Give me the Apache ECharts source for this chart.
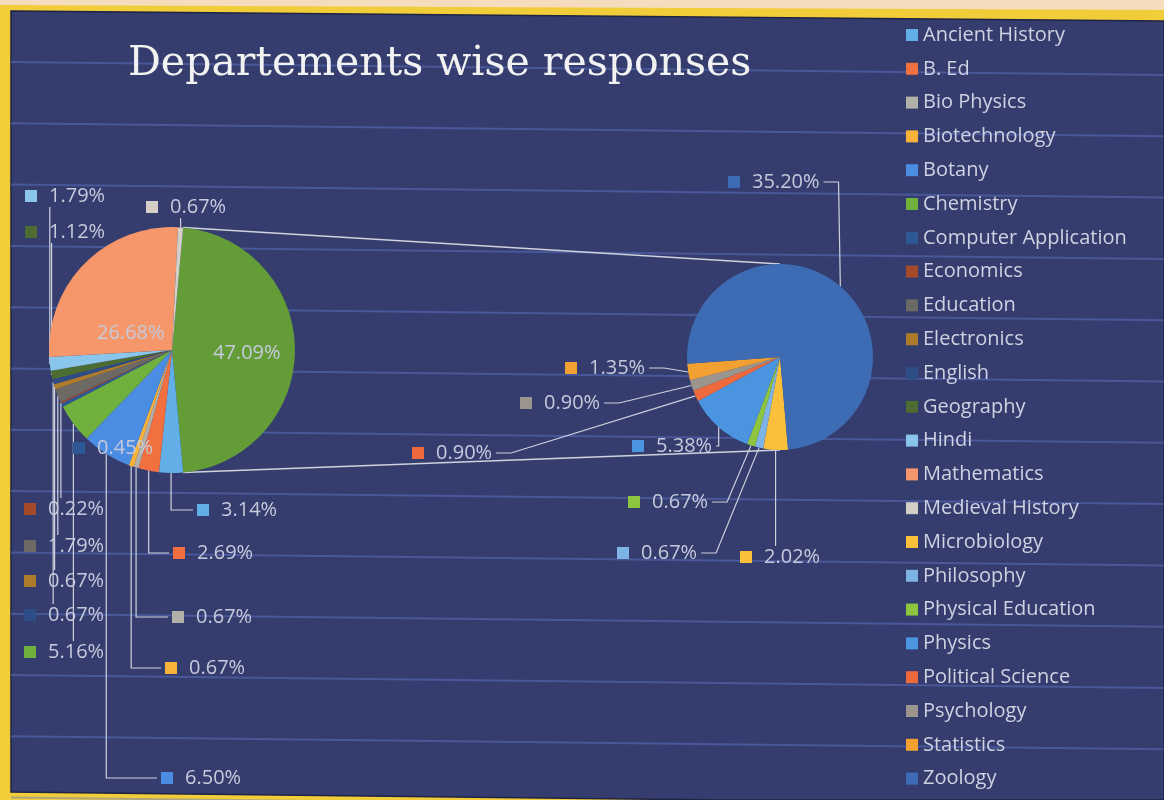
<!DOCTYPE html>
<html>
<head>
<meta charset="utf-8">
<title>Departements wise responses</title>
<script src="https://cdn.jsdelivr.net/npm/echarts@6/dist/echarts.min.js"></script>
<style>
  html, body { margin: 0; padding: 0; background: #f2cd3a; }
  #chart { width: 1164px; height: 800px; }
</style>
</head>
<body>
<div id="chart"></div>
<script>
// first pie: departments up to Medieval History, the rest goes into the green "other" slice
const mainNames = ['Ancient History', 'B. Ed', 'Bio Physics', 'Biotechnology', 'Botany', 'Chemistry',
  'Computer Application', 'Economics', 'Education', 'Electronics', 'English', 'Geography', 'Hindi',
  'Mathematics', 'Medieval History']
const mainValues = [3.14, 2.69, 0.67, 0.67, 6.50, 5.16, 0.45, 0.22, 1.79, 0.67, 0.67, 1.12, 1.79, 26.68, 0.67]
const otherValue = 47.09

// second pie, split out of the first
const subNames = ['Microbiology', 'Philosophy', 'Physical Education', 'Physics', 'Political Science',
  'Psychology', 'Statistics', 'Zoology']
const subValues = [2.02, 0.67, 0.67, 5.38, 0.90, 0.90, 1.35, 35.20]

const legendNames = mainNames.concat(subNames)

const sliceColors = {
  'Ancient History': '#62aee6', 'B. Ed': '#f2703f', 'Bio Physics': '#b3afa9', 'Biotechnology': '#f7b23a',
  'Botany': '#4b8de3', 'Chemistry': '#70b03c', 'Computer Application': '#2d5a94', 'Economics': '#a5492b',
  'Education': '#6d6964', 'Electronics': '#ad7b2c', 'English': '#2e4d86', 'Geography': '#4c6c31',
  'Hindi': '#8ac5ec', 'Mathematics': '#f6976b', 'Medieval History': '#d3cec6', 'Microbiology': '#fac03b',
  'Philosophy': '#7eb3e6', 'Physical Education': '#8dc53e', 'Physics': '#4b95e0',
  'Political Science': '#ee6a3c', 'Psychology': '#9b958d', 'Statistics': '#f3a033', 'Zoology': '#3d6cb4',
  'Other': '#649c37'
}

// layout
const MAIN = { cx: 172, cy: 350, r: 123 }
const SUB = { cx: 780, cy: 357, r: 93 }
const subStart = 175 // degrees, clockwise from 12 o'clock
const textColor = '#c6cadc'
const lineColor = '#cfd2dc'

// label spots (left of the colour key, vertical middle); index 0 of main is the "other" slice
const mainLabelPos = [[213, 353], [197, 510], [173, 553], [172, 617], [165, 668], [161, 778], [24, 652],
  [73, 448], [24, 509], [24, 546], [24, 581], [24, 615], [25, 232], [25, 196], [73, 333], [146, 207]]
const mainInside = [0, 7, 14]
const subLabelPos = [[740, 557], [617, 553], [628, 502], [632, 446], [412, 453], [520, 403], [565, 368], [728, 182]]

const mainAll = [otherValue].concat(mainValues)
const mainTotal = mainAll.reduce((a, b) => a + b, 0)
const otherSpan = otherValue / mainTotal * 360
const mainStart = 90 - otherSpan / 2

function midAngles (values, start) {
  const total = values.reduce((a, b) => a + b, 0)
  let a = start
  return values.map(v => {
    const span = v / total * 360
    const m = a + span / 2
    a += span
    return m
  })
}

function onCircle (c, deg) {
  const t = deg * Math.PI / 180
  return [c.cx + c.r * Math.sin(t), c.cy - c.r * Math.cos(t)]
}

const mainMid = midAngles(mainAll, mainStart)
const subMid = midAngles(subValues, subStart)

function sliceItem (name, value, showLine) {
  const c = sliceColors[name]
  return {
    name: name,
    value: value,
    itemStyle: { color: c },
    label: {
      rich: {
        m: { width: 12, height: 12, backgroundColor: c },
        v: { fontFamily: 'Open Sans', fontSize: 20, color: textColor, padding: [0, 0, 0, 12] },
        o: { fontFamily: 'Open Sans', fontSize: 20, color: textColor }
      }
    },
    labelLine: { show: showLine }
  }
}

const mainData = mainAll.map((v, i) => {
  const name = i === 0 ? 'Other' : mainNames[i - 1]
  return sliceItem(name, v, mainInside.indexOf(i) < 0)
})
const subData = subValues.map((v, i) => sliceItem(subNames[i], v, true))

function labelText (p) {
  const t = p.value.toFixed(2) + '%'
  return p.name === 'Other' ? '{o|' + t + '}' : '{m|}{v|' + t + '}'
}

// down from the slice, then across to the label
function verticalElbow (a, x, y, w, h) {
  if (a[0] >= x - 2 && a[0] <= x + w + 2) {
    const ey = a[1] < y ? y - h / 2 - 1 : y + h / 2 + 1
    return [a, [a[0], ey]]
  }
  const ex = a[0] < x ? x - 4 : x + w + 4
  return [a, [a[0], y], [ex, y]]
}

// short stub off the label, then straight to the slice
function stubLine (a, x, y, w, h) {
  if (a[0] >= x && a[0] <= x + w) {
    const ey = a[1] < y ? y - h / 2 - 1 : y + h / 2 + 1
    return [a, [a[0], ey]]
  }
  const right = a[0] > x + w
  const ex = right ? x + w + 4 : x - 4
  let sx = right ? ex + 15 : ex - 15
  if (right ? sx > a[0] : sx < a[0]) sx = a[0]
  return [[ex, y], [sx, y], a]
}

const chart = echarts.init(document.getElementById('chart'))

const stripes = []
for (let k = 0; k < 13; k++) {
  const y0 = 62 + 61.3 * k
  stripes.push({
    type: 'line', z: -5, silent: true,
    shape: { x1: 11, y1: y0, x2: 1164, y2: y0 + 13 },
    style: { stroke: 'rgba(98,122,205,0.45)', lineWidth: 2 }
  })
}

const topA = onCircle(MAIN, mainStart)
const botA = onCircle(MAIN, mainStart + otherSpan)

const option = {
  backgroundColor: 'transparent',
  animation: false,
  title: {
    text: 'Departements wise responses',
    left: 123,
    top: 39,
    textStyle: { fontFamily: 'DejaVu Serif', fontSize: 41, fontWeight: 'normal', color: '#f2f2f2' }
  },
  legend: {
    orient: 'vertical',
    left: 901,
    top: 20,
    itemWidth: 12,
    itemHeight: 12,
    itemGap: 13.8,
    icon: 'rect',
    selectedMode: false,
    data: legendNames,
    textStyle: { fontFamily: 'Open Sans', fontSize: 20, color: '#cfd2e2' }
  },
  graphic: [
    {
      type: 'polygon', z: -10, silent: true,
      shape: { points: [[11, 11], [1164, 21], [1164, 800], [720, 800], [11, 792]] },
      style: { fill: '#343d6e', stroke: '#1f2344', lineWidth: 1.5 }
    },
    {
      type: 'polygon', z: -10, silent: true,
      shape: { points: [[0, 0], [1164, 0], [1164, 10], [0, 5]] },
      style: { fill: '#f4dcbc' }
    }
  ].concat(stripes).concat([
    {
      type: 'line', z: -4, silent: true,
      shape: { x1: topA[0], y1: topA[1], x2: SUB.cx, y2: SUB.cy - SUB.r },
      style: { stroke: lineColor, lineWidth: 1.3 }
    },
    {
      type: 'line', z: -4, silent: true,
      shape: { x1: botA[0], y1: botA[1], x2: SUB.cx, y2: SUB.cy + SUB.r },
      style: { stroke: lineColor, lineWidth: 1.3 }
    }
  ]),
  series: [
    {
      name: 'main',
      type: 'pie',
      center: [MAIN.cx, MAIN.cy],
      radius: MAIN.r,
      startAngle: 90 - mainStart,
      clockwise: true,
      avoidLabelOverlap: false,
      emphasis: { disabled: true },
      data: mainData,
      label: { show: true, position: 'outside', formatter: labelText },
      labelLine: { show: true, smooth: false, lineStyle: { color: lineColor, width: 1.2 } },
      labelLayout: function (p) {
        const pos = mainLabelPos[p.dataIndex]
        const out = { x: pos[0], y: pos[1], align: 'left', verticalAlign: 'middle' }
        if (mainInside.indexOf(p.dataIndex) < 0) {
          const a = onCircle(MAIN, mainMid[p.dataIndex])
          out.labelLinePoints = verticalElbow(a, pos[0], pos[1], p.labelRect.width, p.labelRect.height)
        }
        return out
      }
    },
    {
      name: 'sub',
      type: 'pie',
      center: [SUB.cx, SUB.cy],
      radius: SUB.r,
      startAngle: 90 - subStart,
      clockwise: true,
      avoidLabelOverlap: false,
      emphasis: { disabled: true },
      data: subData,
      label: { show: true, position: 'outside', formatter: labelText },
      labelLine: { show: true, smooth: false, lineStyle: { color: lineColor, width: 1.2 } },
      labelLayout: function (p) {
        const pos = subLabelPos[p.dataIndex]
        const a = onCircle(SUB, subMid[p.dataIndex])
        return {
          x: pos[0], y: pos[1], align: 'left', verticalAlign: 'middle',
          labelLinePoints: stubLine(a, pos[0], pos[1], p.labelRect.width, p.labelRect.height)
        }
      }
    }
  ]
}

chart.setOption(option)
</script>
</body>
</html>
